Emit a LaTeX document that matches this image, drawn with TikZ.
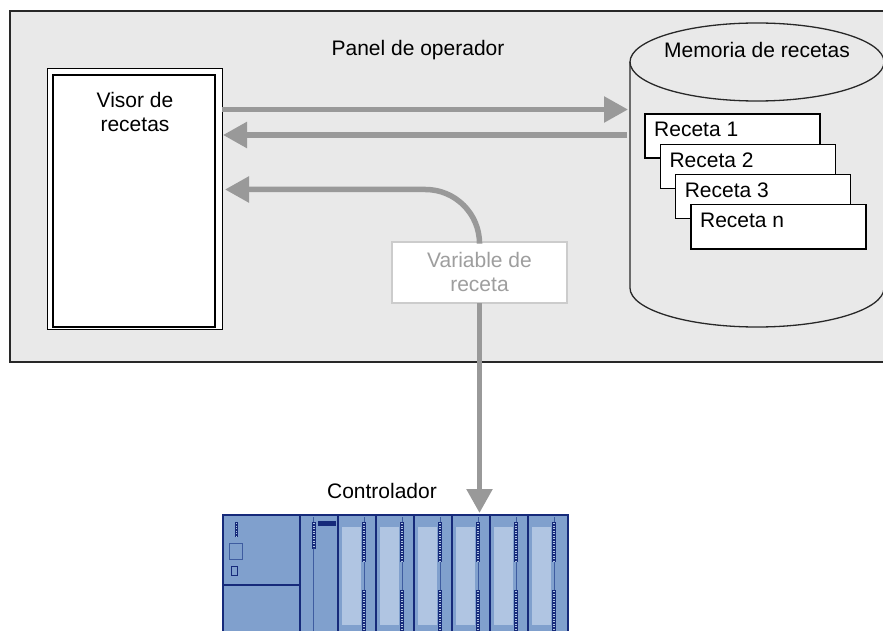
\documentclass[tikz,border=0pt]{standalone}
\usepackage{fontspec}
\setmainfont{Liberation Sans}
\usetikzlibrary{arrows.meta,calc}
\definecolor{panelfill}{RGB}{233,233,233}
\definecolor{panelline}{RGB}{40,40,40}
\definecolor{flowgray}{RGB}{153,153,153}
\definecolor{varline}{RGB}{204,204,204}
\definecolor{vartext}{RGB}{158,158,158}
\definecolor{plcbody}{RGB}{128,160,205}
\definecolor{plcpanel}{RGB}{176,197,226}
\definecolor{plcnavy}{RGB}{22,42,122}
\definecolor{plcthin}{RGB}{62,92,160}
% strip of status LEDs on a module: x, top, bottom
\newcommand\ledstrip[3]{%
  \fill[plcnavy] (#1-1.9,#2) rectangle (#1+1.9,#3);
  \draw[plcpanel, line width=1.4pt, dash pattern=on 1.2pt off 1.3pt] (#1,#2+1) -- (#1,#3-1);}
\begin{document}
\begin{tikzpicture}[x=1pt,y=-1pt,
  lbl/.style={font=\fontsize{21}{24}\selectfont, inner sep=0pt},
  flow/.style={draw=flowgray, line width=5.5pt, -{Triangle[length=24pt,width=25pt]}},
  card/.style={draw=black, line width=1.2pt, fill=white, minimum width=175pt,
    minimum height=44pt, inner sep=0pt, outer sep=0pt, anchor=north west},
  box/.style={inner sep=0pt, outer sep=0pt},
]
\useasboundingbox (0,0) rectangle (883,631);

% operator panel
\draw[fill=panelfill, draw=panelline, line width=1.3pt] (10,11) rectangle (900,362);
\node[lbl, anchor=base] (paneltitle) at (418,56) {Panel de operador};

% recipe viewer
\node[box, draw=black, line width=0.9pt, fill=white, minimum width=175pt,
  minimum height=261pt] (visor) at (134.5,198.5) {};
\draw[line width=1.4pt] ($(visor.north west)+(6,7)$) rectangle ($(visor.south east)+(-7,-2)$);
\node[lbl, anchor=north, align=center] (visortext) at (135,92.5) {Visor de\\recetas};

% recipe memory
\draw[panelline, line width=1.3pt] (630,62) -- (630,288)
  arc[start angle=180, end angle=0, x radius=127, y radius=39] -- (884,62);
\draw[panelline, line width=1.3pt] (757,62) ellipse[x radius=127, y radius=39];
\node[lbl, anchor=base] (memtitle) at (757,58) {Memoria de recetas};
\coordinate (memwest) at (630,175);

% stacked recipes
\foreach \i/\t in {0/1,1/2,2/3,3/n} {
  \node[card] (card\t) at (645+15.3*\i,114+30.3*\i) {};
  \node[lbl, anchor=base west] (cardtext\t) at ($(card\t.north west)+(9,23)$) {Receta \t};
}

% recipe variable
\node[box, draw=varline, line width=1.2pt, fill=white, minimum width=175pt,
  minimum height=61pt] (varbox) at (479.5,272.5) {};
\node[lbl, text=vartext, anchor=north, align=center] (vartitle) at (479.5,252) {Variable de\\receta};

% controller
\node[box, fill=plcbody, draw=plcnavy, line width=2.5pt, minimum width=345pt,
  minimum height=130pt, anchor=north west] (plc) at (223,515) {};
\node[lbl, anchor=base] (plctitle) at (382,498) {Controlador};
\draw[plcnavy, line width=2.5pt] (300,515) -- (300,640);
\draw[plcnavy, line width=2.5pt] (223,585) -- (300,585);
\ledstrip{236.5}{522}{537}
\draw[plcthin, line width=1pt] (229,543) rectangle (242,559);
\draw[plcnavy, line width=1pt] (231,566) rectangle (237,575);
\draw[plcthin, line width=1pt] (313,517) -- (313,640);
\ledstrip{314}{522}{549}
\fill[plcnavy] (318,521) rectangle (336,526);
\foreach \k in {0,...,5} {
  \pgfmathsetmacro\L{338+38*\k}
  \draw[plcnavy, line width=2.5pt] (\L,515) -- (\L,640);
  \fill[plcpanel] (\L+4,527) rectangle (\L+23,625);
  \draw[plcthin, line width=1pt] (\L+26,517) -- (\L+26,640);
  \ledstrip{\L+26}{522}{562}
  \ledstrip{\L+26}{590}{640}
}

% data flows
\coordinate (y1) at (0,109.5);
\coordinate (y2) at (0,135);
\coordinate (y3) at (0,189.5);
\draw[flow, shorten >=2pt] (visor.east |- y1) -- (memwest |- y1);
\draw[flow, shorten <=3pt, shorten >=1pt] (memwest |- y2) -- (visor.east |- y2);
\draw[flow, shorten >=3pt, rounded corners=54pt] (varbox.north) |- (visor.east |- y3);
\draw[flow, shorten >=2pt] (varbox.south) -- (plc.north -| varbox.south);
\end{tikzpicture}
\end{document}
